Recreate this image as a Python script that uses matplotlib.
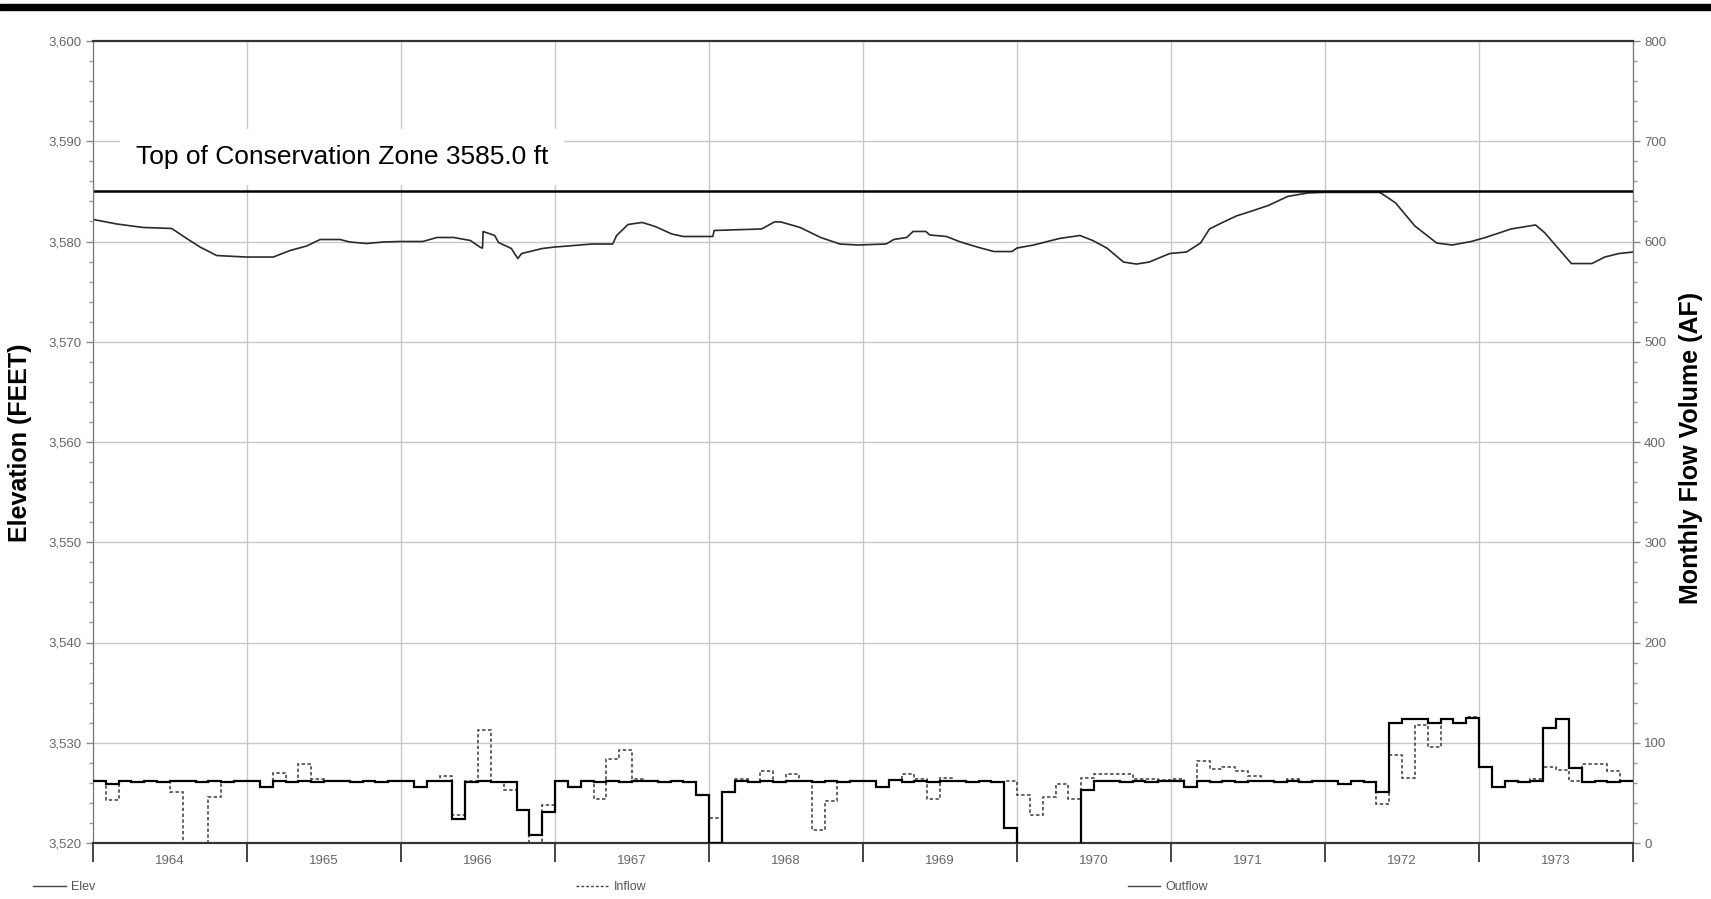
import matplotlib
matplotlib.use('Agg')
import matplotlib.pyplot as plt
from matplotlib.lines import Line2D
from matplotlib.patches import Rectangle
from matplotlib.ticker import FuncFormatter, MultipleLocator
import numpy as np

plt.rcParams['font.family'] = ['Liberation Sans', 'DejaVu Sans']

# --- data (months counted from Jan 1964) ---
years = [1964, 1965, 1966, 1967, 1968, 1969, 1970, 1971, 1972, 1973]
conservation_top = 3585.0

# reservoir elevation, ft
elev_month = [0, 1.84, 3.9, 6.13, 7.3, 8.34, 9.64, 11.97, 14.05, 15.35, 16.65, 17.7,
              19.25, 20.0, 21.3, 22.6, 23.9, 25.7, 26.8, 28.1, 29.4, 30.2, 30.35, 30.4,
              31.3, 31.6, 32.6, 33.1, 33.4, 35.0, 36.0, 38.9, 40.5, 40.8, 41.7, 42.8,
              43.8, 45.1, 46.0, 48.3, 48.4, 52.1, 53.1, 53.6, 55.1, 56.7, 58.2, 59.6,
              61.8, 62.4, 63.4, 63.9, 64.9, 65.2, 66.5, 67.6, 68.9, 70.2, 71.6, 72.0,
              73.3, 75.3, 76.9, 77.9, 79.0, 80.3, 81.3, 82.3, 83.9, 85.2, 86.3, 87.0,
              88.1, 89.1, 90.2, 91.6, 93.1, 94.7, 96.0, 100.2, 100.4, 101.5, 103.0, 104.7,
              105.9, 107.4, 108.5, 110.5, 112.4, 113.1, 115.2, 116.8, 117.8, 118.9, 120]
elev_ft = [3582.2, 3581.75, 3581.4, 3581.3, 3580.3, 3579.45, 3578.6, 3578.45, 3578.45, 3579.1,
           3579.55, 3580.2, 3580.2, 3579.95, 3579.8, 3579.95, 3580.0, 3580.0, 3580.4, 3580.4,
           3580.1, 3579.4, 3579.35, 3581.0, 3580.6, 3579.9, 3579.3, 3578.3, 3578.8, 3579.3,
           3579.45, 3579.75, 3579.75, 3580.6, 3581.7, 3581.9, 3581.5, 3580.75, 3580.5, 3580.5,
           3581.1, 3581.25, 3581.95, 3581.95, 3581.4, 3580.4, 3579.75, 3579.65, 3579.75, 3580.2,
           3580.4, 3581.0, 3581.0, 3580.65, 3580.5, 3579.95, 3579.45, 3579.0, 3579.0, 3579.35,
           3579.65, 3580.3, 3580.6, 3580.1, 3579.35, 3577.95, 3577.75, 3577.95, 3578.8, 3578.95,
           3579.85, 3581.25, 3581.95, 3582.55, 3583.0, 3583.6, 3584.5, 3584.85, 3584.9, 3584.9,
           3584.8, 3583.85, 3581.55, 3579.85, 3579.65, 3580.0, 3580.4, 3581.25, 3581.65, 3580.9,
           3577.8, 3577.8, 3578.45, 3578.8, 3578.95]

# monthly volumes, AF (one value per month, 1964-1973)
inflow_af = [62, 43, 62, 61, 62, 61, 51, -5, -5, 46, 61, 62,
             62, 56, 70, 61, 79, 64, 62, 62, 61, 62, 61, 62,
             62, 56, 62, 67, 28, 62, 113, 61, 53, 33, -3, 38,
             62, 56, 62, 44, 84, 93, 64, 62, 61, 62, 61, 48,
             25, 51, 64, 61, 72, 61, 69, 62, 13, 42, 61, 62,
             62, 56, 63, 69, 64, 44, 65, 62, 61, 62, 61, 62,
             48, 28, 46, 59, 44, 65, 69, 69, 69, 64, 64, 63,
             64, 56, 82, 74, 76, 72, 67, 62, 61, 64, 61, 62,
             62, 59, 62, 61, 39, 88, 65, 118, 96, 124, 120, 126,
             76, 56, 62, 61, 64, 76, 73, 62, 79, 79, 72, 62]
outflow_af = [62, 59, 62, 61, 62, 61, 62, 62, 61, 62, 61, 62,
              62, 56, 62, 61, 62, 61, 62, 62, 61, 62, 61, 62,
              62, 56, 62, 62, 24, 61, 62, 61, 61, 33, 8, 31,
              62, 56, 62, 61, 62, 61, 62, 62, 61, 62, 61, 48,
              0, 51, 62, 61, 62, 61, 62, 62, 61, 62, 61, 62,
              62, 56, 63, 61, 62, 61, 62, 62, 61, 62, 61, 15,
              -5, -5, -5, -5, -5, 53, 62, 62, 61, 62, 61, 62,
              62, 56, 62, 61, 62, 61, 62, 62, 61, 62, 61, 62,
              62, 59, 62, 61, 51, 120, 124, 124, 120, 124, 120, 125,
              76, 56, 62, 61, 62, 115, 124, 75, 61, 62, 61, 62]

W, H = 1711, 899
fig = plt.figure(figsize=(W / 100, H / 100), dpi=100)
ax = fig.add_axes([93 / W, 1 - 843 / H, 1540 / W, 802 / H])
ax2 = ax.twinx()

grid_c = '#c8c8c8'
tick_c = '#666666'

# elevation
ax.plot(elev_month, elev_ft, color='#2a2a2a', lw=1.2, zorder=3)
ax.axhline(conservation_top, color='black', lw=1.8, zorder=3)
ax.text(3.35, 3588.4, 'Top of Conservation Zone %.1f ft' % conservation_top,
        fontsize=19, ha='left', va='center', zorder=4,
        bbox=dict(boxstyle='square,pad=0.6', fc='white', ec='none'))

ax.set_xlim(0, 12 * len(years))
ax.set_ylim(3520, 3600)
ax.yaxis.set_major_locator(MultipleLocator(10))
ax.yaxis.set_minor_locator(MultipleLocator(2))
ax.yaxis.set_major_formatter(FuncFormatter(lambda v, p: f'{v:,.0f}'))

ax.set_xticks(np.arange(0, 12 * len(years) + 1, 12))
ax.set_xticklabels([])
ax.set_xticks(np.arange(6, 12 * len(years), 12), minor=True)
ax.set_xticklabels([str(y) for y in years], minor=True)
ax.tick_params(axis='x', which='major', direction='out', length=14, width=1.4,
               color='#444444')
ax.tick_params(axis='x', which='minor', length=0, pad=9, labelsize=9.5,
               labelcolor=tick_c)
ax.tick_params(axis='y', which='major', length=5, width=1, color='#888888',
               labelsize=9.5, labelcolor=tick_c, pad=3)
ax.tick_params(axis='y', which='minor', length=3, width=1, color='#999999')
ax.grid(True, which='major', color=grid_c, lw=1)

# flows on the right axis
edges = np.arange(0, 12 * len(years) + 1)
ax2.stairs(inflow_af, edges, baseline=None, color='#3a3a3a', lw=1.1,
           linestyle=(0, (2.2, 1.6)), zorder=3)
ax2.stairs(outflow_af, edges, baseline=None, color='black', lw=1.6, zorder=4)
ax2.set_ylim(0, 800)
ax2.yaxis.set_major_locator(MultipleLocator(100))
ax2.yaxis.set_minor_locator(MultipleLocator(20))
ax2.tick_params(axis='y', which='major', length=5, width=1, color='#888888',
                labelsize=9.5, labelcolor=tick_c, pad=3)
ax2.tick_params(axis='y', which='minor', length=3, width=1, color='#999999')

for a in (ax, ax2):
    a.spines['top'].set_color('#333333')
    a.spines['top'].set_linewidth(1.5)
    a.spines['bottom'].set_color('#333333')
    a.spines['bottom'].set_linewidth(1.5)
    a.spines['left'].set_color('#777777')
    a.spines['right'].set_color('#777777')

fig.text(20 / W, 1 - 443 / H, 'Elevation (FEET)', rotation=90, fontsize=18,
         fontweight='bold', ha='center', va='center')
fig.text(1691 / W, 1 - 448 / H, 'Monthly Flow Volume (AF)', rotation=90, fontsize=18,
         fontweight='bold', ha='center', va='center')

handles = [Line2D([], [], color='#444444', lw=1),
           Line2D([], [], color='#444444', lw=1, linestyle=(0, (2, 1.5))),
           Line2D([], [], color='#444444', lw=1)]
fig.legend(handles, ['Elev', 'Inflow', 'Outflow'], loc='center left',
           bbox_to_anchor=(22 / W, 1 - 887 / H), ncol=3, frameon=False, fontsize=9,
           handlelength=2.6, handletextpad=0.4, columnspacing=38.5,
           labelcolor='#555555')

# black rule across the top of the page
fig.patches.append(Rectangle((0, 1 - 9.5 / H), 1, 6 / H, transform=fig.transFigure,
                             color='black', zorder=10))

fig.savefig('out.png', dpi=100)
